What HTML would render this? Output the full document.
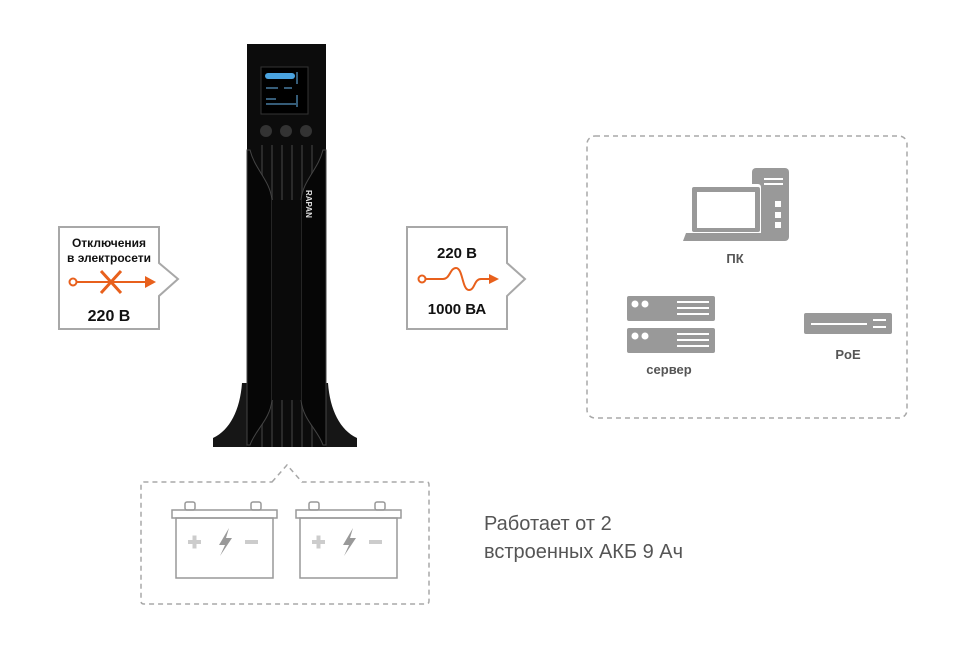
<!DOCTYPE html>
<html><head><meta charset="utf-8"><style>
html,body{margin:0;padding:0;background:#fff;}
svg{display:block;}
text{font-family:"Liberation Sans","DejaVu Sans",sans-serif;}
</style></head><body>
<svg width="971" height="648" viewBox="0 0 971 648" xmlns="http://www.w3.org/2000/svg">
<!-- left box -->
<path d="M59,227 H159 V263 L178,279 L159,296 V329 H59 Z" fill="#fff" stroke="#a8a8a8" stroke-width="2"/>
<text x="109" y="247" font-size="12" font-weight="bold" text-anchor="middle" fill="#111">Отключения</text>
<text x="109" y="262" font-size="12" font-weight="bold" text-anchor="middle" fill="#111">в электросети</text>
<circle cx="73" cy="282" r="3.5" fill="none" stroke="#e8601c" stroke-width="2"/>
<line x1="77" y1="282" x2="146" y2="282" stroke="#e8601c" stroke-width="2"/>
<path d="M145,276 L156,282 L145,288 Z" fill="#e8601c"/>
<path d="M101,271 L121,293 M121,271 L101,293" stroke="#e8601c" stroke-width="3"/>
<text x="109" y="321" font-size="16" font-weight="bold" text-anchor="middle" fill="#111">220 В</text>
<!-- right box -->
<path d="M407,227 H507 V263 L525,279 L507,296 V329 H407 Z" fill="#fff" stroke="#a8a8a8" stroke-width="2"/>
<text x="457" y="258" font-size="15" font-weight="bold" text-anchor="middle" fill="#111">220 В</text>
<circle cx="422" cy="279" r="3.5" fill="none" stroke="#e8601c" stroke-width="2"/>
<path d="M426,279 H443 C450,279 450,268 456,268 C463,268 462,290 469,290 C475,290 474,279 481,279 H490" fill="none" stroke="#e8601c" stroke-width="2"/>
<path d="M489,274 L499,279 L489,284 Z" fill="#e8601c"/>
<text x="457" y="314" font-size="15" font-weight="bold" text-anchor="middle" fill="#111">1000 ВА</text>
<!-- dashed device box -->
<rect x="587" y="136" width="320" height="282" rx="8" fill="none" stroke="#a8a8a8" stroke-width="1.5" stroke-dasharray="5,4"/>
<!-- PC -->
<rect x="752" y="168" width="37" height="73" rx="4" fill="#999"/>
<rect x="764" y="178" width="19" height="2" fill="#fff"/><rect x="764" y="183" width="19" height="2" fill="#fff"/>
<rect x="775" y="201" width="6" height="6" fill="#fff"/><rect x="775" y="212" width="6" height="6" fill="#fff"/><rect x="775" y="222" width="6" height="6" fill="#fff"/>
<rect x="689" y="184" width="72" height="52" rx="3" fill="#fff"/>
<rect x="692" y="187" width="68" height="45" rx="2" fill="#999"/>
<rect x="697" y="192" width="58" height="36" fill="#fff"/>
<path d="M686,233 H766 L770,241 H683 Z" fill="#999"/>
<text x="735" y="263" font-size="13" font-weight="bold" text-anchor="middle" fill="#555">ПК</text>
<!-- servers -->
<g fill="#999"><rect x="627" y="296" width="88" height="25" rx="2"/><rect x="627" y="328" width="88" height="25" rx="2"/></g>
<g fill="#fff"><circle cx="635" cy="304" r="3.5"/><circle cx="645" cy="304" r="3.5"/><circle cx="635" cy="336" r="3.5"/><circle cx="645" cy="336" r="3.5"/>
<rect x="677" y="301" width="32" height="2"/><rect x="677" y="307" width="32" height="2"/><rect x="677" y="313" width="32" height="2"/>
<rect x="677" y="333" width="32" height="2"/><rect x="677" y="339" width="32" height="2"/><rect x="677" y="345" width="32" height="2"/></g>
<text x="669" y="374" font-size="13" font-weight="bold" text-anchor="middle" fill="#555">сервер</text>
<!-- PoE -->
<rect x="804" y="313" width="88" height="21" rx="2" fill="#999"/>
<rect x="811" y="323" width="56" height="2" fill="#fff"/><rect x="873" y="319" width="13" height="2" fill="#fff"/><rect x="873" y="326" width="13" height="2" fill="#fff"/>
<text x="848" y="359" font-size="13" font-weight="bold" text-anchor="middle" fill="#555">PoE</text>
<!-- UPS -->
<path d="M242,383 C240,410 230,430 213,438 V447 H357 V438 C340,430 330,410 328,383 Z" fill="#161616"/>
<rect x="247" y="44" width="79" height="403" fill="#0c0c0c"/>
<g stroke="#2a2a2a" stroke-width="2">
<line x1="262" y1="145" x2="262" y2="447"/><line x1="272" y1="145" x2="272" y2="447"/><line x1="282" y1="145" x2="282" y2="447"/><line x1="292" y1="145" x2="292" y2="447"/><line x1="302" y1="145" x2="302" y2="447"/><line x1="312" y1="145" x2="312" y2="447"/>
</g>
<path d="M250,150 C255,170 270,180 272,200 V400 C270,420 255,430 250,445 H247 V150 Z" fill="#060606" stroke="#444" stroke-width="1"/>
<path d="M323,150 C318,170 303,180 301,200 V400 C303,420 318,430 323,445 H326 V150 Z" fill="#060606" stroke="#444" stroke-width="1"/>
<rect x="272" y="200" width="29" height="200" fill="#0a0a0a"/>
<rect x="261" y="67" width="47" height="47" fill="#000" stroke="#333"/>
<rect x="265" y="73" width="30" height="6" rx="3" fill="#4aa3e0"/>
<g stroke="#6ab8f0" stroke-width="1" fill="none"><path d="M266,88 h12 M284,88 h8 M297,72 v12 M297,95 v12 M266,99 h10 M266,104 h30"/></g>
<g fill="#333"><circle cx="266" cy="131" r="6"/><circle cx="286" cy="131" r="6"/><circle cx="306" cy="131" r="6"/></g>
<text x="0" y="0" font-size="8" font-weight="bold" fill="#ddd" transform="translate(306,190) rotate(90)">RAPAN</text>
<!-- battery box -->
<path d="M272,482 L287,465 L302,482 H427 Q429,482 429,485 V601 Q429,604 426,604 H144 Q141,604 141,601 V485 Q141,482 144,482 Z" fill="none" stroke="#a8a8a8" stroke-width="1.5" stroke-dasharray="5,4"/>
<g fill="none" stroke="#999" stroke-width="1.5">
<rect x="176" y="518" width="97" height="60"/><rect x="172" y="510" width="105" height="8"/><rect x="185" y="502" width="10" height="8" rx="2"/><rect x="251" y="502" width="10" height="8" rx="2"/>
<rect x="300" y="518" width="97" height="60"/><rect x="296" y="510" width="105" height="8"/><rect x="309" y="502" width="10" height="8" rx="2"/><rect x="375" y="502" width="10" height="8" rx="2"/>
</g>
<g fill="#ccc"><rect x="188" y="540" width="13" height="4"/><rect x="192.5" y="535.5" width="4" height="13"/><rect x="245" y="540" width="13" height="4"/>
<rect x="312" y="540" width="13" height="4"/><rect x="316.5" y="535.5" width="4" height="13"/><rect x="369" y="540" width="13" height="4"/></g>
<g fill="#999"><path d="M229,528 L219,545 H225 L220,556 L232,538 H226 Z"/><path d="M353,528 L343,545 H349 L344,556 L356,538 H350 Z"/></g>
<text x="484" y="530" font-size="20" fill="#555">Работает от 2</text>
<text x="484" y="558" font-size="20" fill="#555">встроенных АКБ 9 Ач</text>
</svg>
</body></html>
